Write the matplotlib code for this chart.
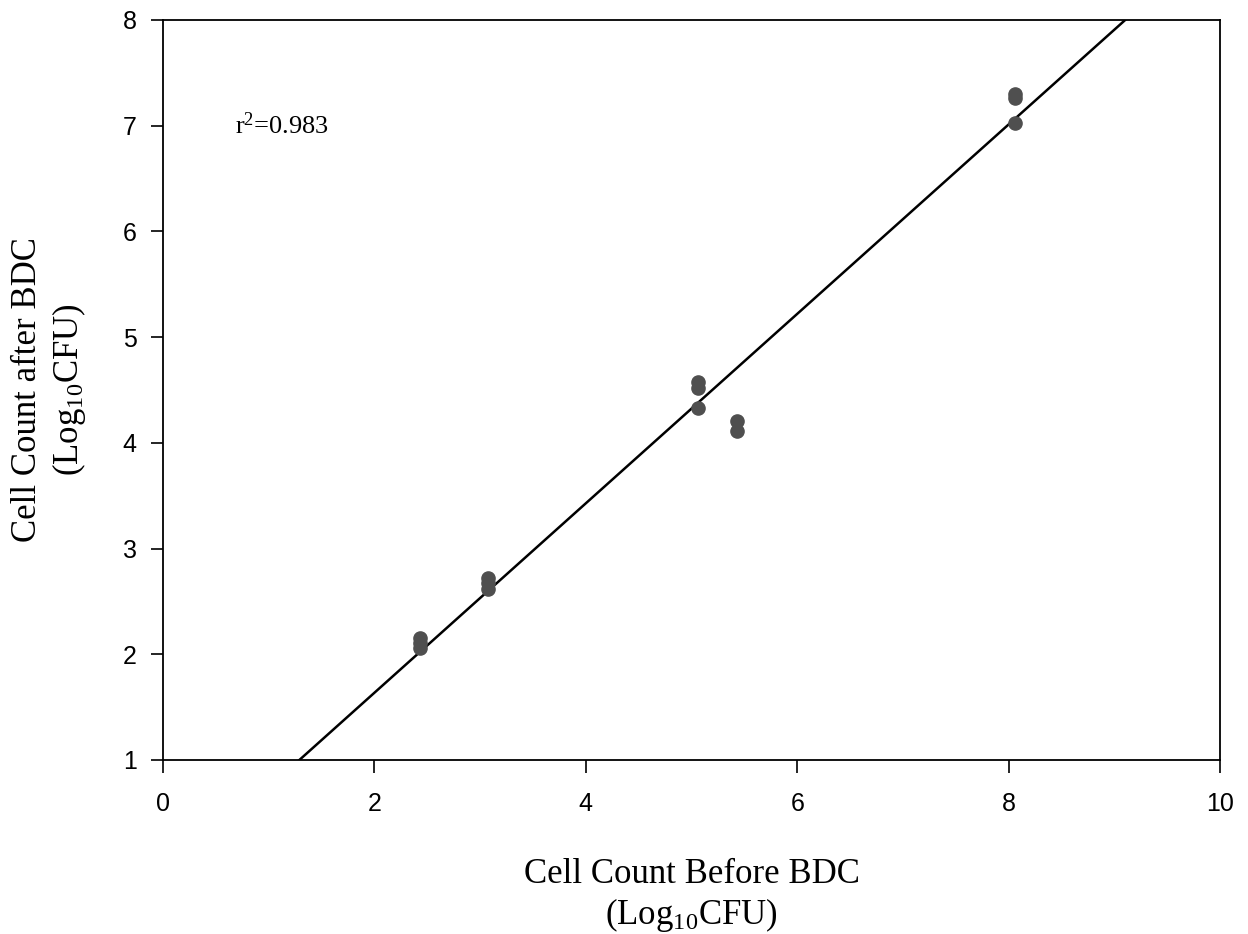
import matplotlib
matplotlib.use("Agg")
import matplotlib.pyplot as plt
import numpy as np

plt.rcParams['mathtext.fontset'] = 'custom'
plt.rcParams['mathtext.rm'] = 'Liberation Serif'
plt.rcParams['mathtext.it'] = 'Liberation Serif:italic'

# cell counts before / after BDC (log10 CFU)
before = [2.43, 2.43, 2.43, 3.07, 3.07, 3.07, 5.06, 5.06, 5.06, 5.43, 5.43, 8.06, 8.06, 8.06]
after = [2.15, 2.11, 2.06, 2.72, 2.67, 2.62, 4.58, 4.52, 4.33, 4.21, 4.11, 7.30, 7.26, 7.03]

# regression line
slope = 0.896
intercept = -0.156
line_x = [1.29, 9.1]

fig = plt.figure(figsize=(12.48, 9.34), dpi=100)
ax = fig.add_axes([0.1306, 0.1863, 0.8470, 0.7923])

lx = np.array(line_x)
ax.plot(lx, slope * lx + intercept, color='black', lw=1.8, zorder=2)
ax.plot(before, after, 'o', color='#4f4f4f', markersize=9.5, zorder=3)

ax.set_xlim(0, 10)
ax.set_ylim(1, 8)
ax.set_xticks([0, 2, 4, 6, 8, 10])
ax.set_yticks([1, 2, 3, 4, 5, 6, 7, 8])
ax.tick_params(direction='out', length=9, width=1.2, labelsize=18)
ax.tick_params(axis='x', pad=14)
ax.tick_params(axis='y', pad=10)
for lab in ax.get_xticklabels() + ax.get_yticklabels():
    lab.set_fontfamily('Liberation Sans')
for s in ax.spines.values():
    s.set_linewidth(1.3)

ax.set_xlabel('Cell Count Before BDC\n(Log$_{10}$CFU)', fontsize=25,
              fontfamily='Liberation Serif', labelpad=30, linespacing=1.2)
ax.set_ylabel('Cell Count after BDC\n(Log$_{10}$CFU)', fontsize=25,
              fontfamily='Liberation Serif', labelpad=25, linespacing=1.2)

ax.text(0.68, 7.0, 'r$^2$=0.983', fontsize=19, fontfamily='Liberation Serif',
        va='center', ha='left')

fig.savefig('out.png', dpi=100)
